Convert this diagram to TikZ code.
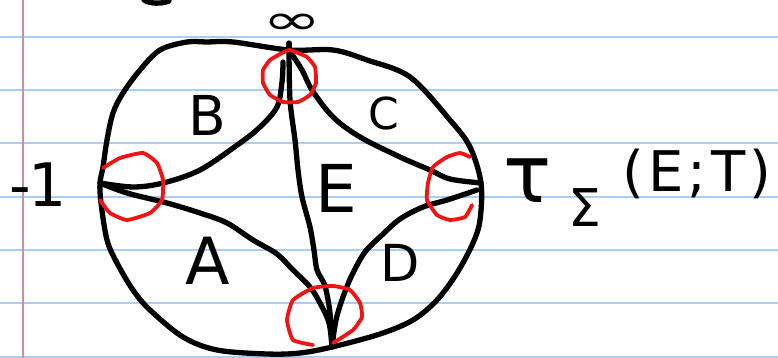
\documentclass[tikz,border=0pt]{standalone}
\usepackage{fontspec}
\setmainfont{DejaVu Sans}
\definecolor{paperblue}{RGB}{168,206,243}
\definecolor{marginred}{RGB}{205,140,160}
\definecolor{inkred}{RGB}{240,20,20}
\tikzset{
  pen/.style={line width=5.3pt,line cap=round,line join=round,black},
  redpen/.style={line width=3.8pt,line cap=round,line join=round,inkred},
  paperline/.style={line width=2pt,paperblue},
  marginline/.style={line width=1.6pt,marginred},
  lab/.style={inner sep=0pt,font=\fontsize{#1}{#1}\selectfont}
}
\begin{document}
\begin{tikzpicture}[x=1pt,y=-1pt]
\useasboundingbox (0,0) rectangle (778,358);
\fill[white] (0,0) rectangle (778,358);
% paper
\foreach \yy in {37,90,143,197,250,303,357} \draw[paperline] (0,\yy) -- (778,\yy);
\draw[marginline] (23,0) -- (23,358);
% stray stroke at top
\draw[pen] (144,0) .. controls (150,4) and (162,4) .. (169,1);
% vertices
\coordinate (T) at (289,50);
\coordinate (L) at (100,183);
\coordinate (R) at (481,183);
\coordinate (Bt) at (332,347);
% outer curve
\draw[pen] plot[smooth cycle,tension=0.55] coordinates {(207,42) (233,42) (T) (333,50) (367,60) (410,77) (450,120) (470,147) (R) (480,220) (473,243) (457,273) (437,300) (413,320) (380,334) (Bt) (300,353) (267,354) (217,350) (183,337) (150,310) (133,290) (117,263) (107,240) (101,203) (L) (103,167) (107,140) (113,113) (123,93) (140,70) (160,50) (187,42)};
\draw[pen] (289,43) -- (T);
% B curve
\draw[pen] plot[smooth,tension=0.55] coordinates {(L) (133,187) (163,183) (200,170) (240,143) (260,127) (277,107) (282,82) (283,62)};
% C curve
\draw[pen] plot[smooth,tension=0.55] coordinates {(T) (302,70) (312,90) (333,117) (360,137) (400,157) (430,170) (450,179) (R)};
% central line
\draw[pen] plot[smooth,tension=0.5] coordinates {(T) (290,100) (295,140) (298,170) (302,197) (310,227) (314,250) (317,270) (325,286) (330,313) (Bt)};
% A curve
\draw[pen] plot[smooth,tension=0.55] coordinates {(L) (127,193) (167,203) (200,213) (227,223) (253,240) (277,254) (293,270) (310,287) (320,303) (329,323) (Bt)};
% D curve
\draw[pen] plot[smooth,tension=0.55] coordinates {(Bt) (336,320) (343,297) (352,275) (365,252) (382,235) (400,219) (423,207) (447,200) (477,190)};
% red circles
\draw[redpen] plot[smooth cycle,tension=0.25] coordinates {(290,50) (307,57) (315,67) (316,83) (310,95) (298,102) (283,102) (270,95) (263,83) (263,70) (270,60) (282,53)};
\draw[redpen] plot[smooth,tension=0.3] coordinates {(103,168) (120,158) (143,153) (157,163) (163,180) (162,200) (150,213) (127,220) (110,213) (100,200)};
\draw[redpen] plot[smooth,tension=0.3] coordinates {(470,157) (460,153) (447,157) (433,167) (428,183) (427,200) (437,215) (450,220) (465,217) (472,205)};
\draw[redpen] plot[smooth,tension=0.3] coordinates {(313,345) (293,340) (287,320) (293,300) (313,288) (333,286) (350,290) (360,303) (362,317) (353,330) (333,343)};
% labels
\node[lab=42pt,anchor=base] (inf) at (292,35) {\scalebox{1.7}[1]{∞}};
\node[lab=55pt] (lB) at (207,115) {B};
\node[lab=44pt] (lC) at (384,113) {C};
\node[lab=66pt] (lE) at (336,188) {E};
\node[lab=65pt] (lA) at (208,261) {A};
\node[lab=51pt] (lD) at (400,263) {D};
\node[lab=60pt] (lm) at (38,185) {-\kern-2pt1};
\node[lab=80pt] (tau) at (528,181) {τ};
\node[lab=52pt] (sig) at (585,208) {Σ};
\node[lab=56pt] (arg) at (697,174) {(\hspace{4pt}E\hspace{3pt};\hspace{5pt}T\hspace{4pt})};
\end{tikzpicture}
\end{document}
